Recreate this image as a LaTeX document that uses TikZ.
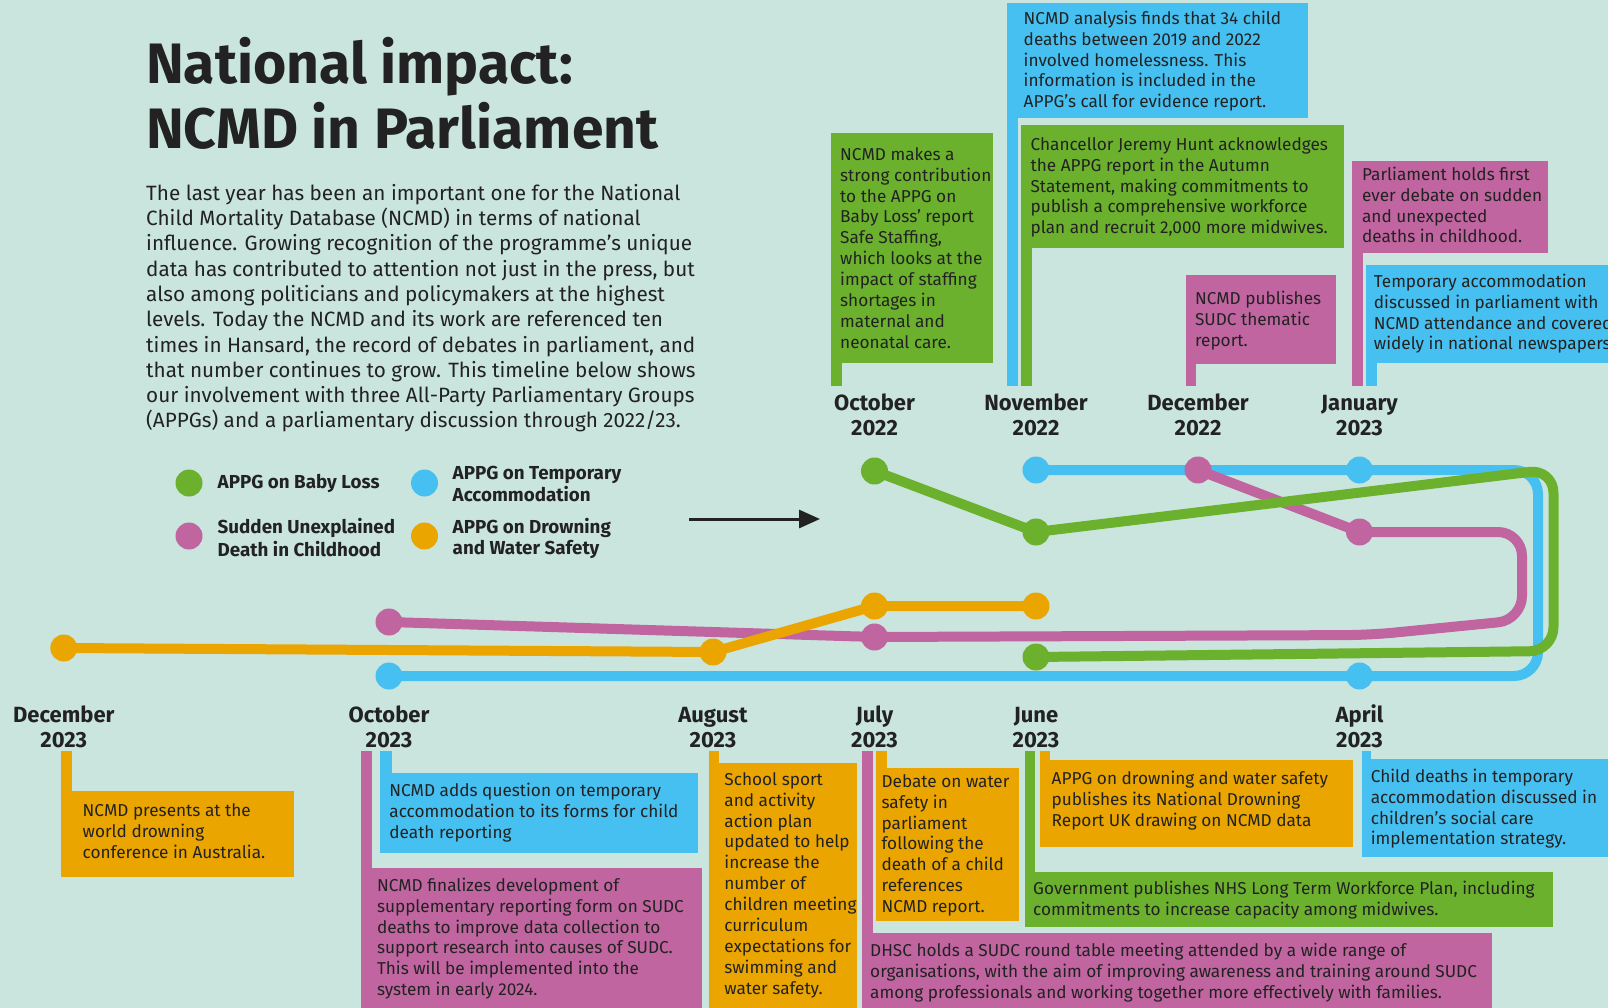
\documentclass[tikz,border=0pt]{standalone}
\usepackage{fontspec}
\setmainfont{Fira Sans}
\usetikzlibrary{arrows.meta}

\definecolor{bg}{RGB}{202,229,222}
\definecolor{ink}{RGB}{34,34,34}
\definecolor{cgreen}{RGB}{107,177,45}
\definecolor{cblue}{RGB}{70,192,240}
\definecolor{cpink}{RGB}{192,101,160}
\definecolor{corange}{RGB}{234,165,0}

\newcommand\fsz[2]{\fontsize{#1}{#2}\selectfont}

\begin{document}
\begin{tikzpicture}[x=1pt, y=-1pt,
  tl/.style={line width=10pt, line cap=round, line join=round},
  loop/.style={tl, rounded corners=24pt},
  dot/.style={circle, inner sep=0pt, minimum size=27pt},
  cbox/.style={anchor=north west, inner sep=0pt, outer sep=0pt},
  ctext/.style={anchor=north west, inner sep=0pt, align=left, text=ink, font=\fsz{17.2}{20.9}},
  mlabel/.style={anchor=north, inner sep=0pt, align=center, text=ink, font=\bfseries\fsz{22}{25}},
  ltext/.style={anchor=north west, inner sep=0pt, align=left, text=ink, font=\bfseries\fsz{18.8}{21}},
]
\path[use as bounding box] (0,0) rectangle (1608,1008);
\clip (0,0) rectangle (1608,1008);
\fill[bg] (0,0) rectangle (1608,1008);

% ---------- heading and introduction ----------
\node[anchor=north west, inner sep=0pt, align=left, text=ink,
      font=\bfseries\fsz{57}{62}] (title) at (146,36.6)
  {\strut National impact:\\NCMD in Parliament};
\node[anchor=north west, inner sep=0pt, align=left, text=ink,
      font=\fsz{20.7}{25.3}] (intro) at (146,182.3)
  {\strut The last year has been an important one for the National\\
   Child Mortality Database (NCMD) in terms of national\\
   influence. Growing recognition of the programme’s unique\\
   data has contributed to attention not just in the press, but\\
   also among politicians and policymakers at the highest\\
   levels. Today the NCMD and its work are referenced ten\\
   times in Hansard, the record of debates in parliament, and\\
   that number continues to grow. This timeline below shows\\
   our involvement with three All-Party Parliamentary Groups\\
   (APPGs) and a parliamentary discussion through 2022/23.};

% ---------- legend ----------
\node[dot, fill=cgreen] (lgA) at (189,483) {};
\node[ltext] (lgAt) at (217.5,473.3) {\strut APPG on Baby Loss};
\node[dot, fill=cblue] (lgB) at (424.5,483) {};
\node[ltext] (lgBt) at (452.5,464.3) {\strut APPG on Temporary\\Accommodation};
\node[dot, fill=cpink] (lgC) at (189,536) {};
\node[ltext] (lgCt) at (217.5,518.3) {\strut Sudden Unexplained\\Death in Childhood};
\node[dot, fill=corange] (lgD) at (424.5,536) {};
\node[ltext] (lgDt) at (452.5,518.3) {\strut APPG on Drowning\\and Water Safety};

\coordinate (arS) at (689,519);
\coordinate (arE) at (820,519);
\draw[ink, line width=3pt, -{Triangle[length=21pt,width=18pt]}] (arS) -- (arE);

% ---------- timeline stops ----------
\coordinate (gA) at (874.5,471);
\coordinate (gB) at (1036,532);
\coordinate (gC) at (1036,657);
\coordinate (bA) at (1036,470);
\coordinate (bB) at (1359.5,470);
\coordinate (bC) at (1359.5,676);
\coordinate (bD) at (389,676);
\coordinate (pA) at (1198,470);
\coordinate (pB) at (1359.5,532);
\coordinate (pC) at (874.5,637);
\coordinate (pD) at (389,622);
\coordinate (oA) at (63.8,648);
\coordinate (oB) at (713,652);
\coordinate (oC) at (874.5,606);
\coordinate (oD) at (1036,606);

% temporary accommodation
\draw[loop, cblue] (bA) -- (1538,470) -- (1538,676) -- (bD);
\foreach \p in {bA,bB,bC,bD} \node[dot, fill=cblue] (n\p) at (\p) {};
% sudden unexplained death
\draw[tl, cpink] (pA) -- (pB);
\draw[loop, cpink] (pB) -- (1522,532) -- (1522,620) -- (1370,635) -- (pC) -- (pD);
\foreach \p in {pA,pB,pC,pD} \node[dot, fill=cpink] (n\p) at (\p) {};
% drowning and water safety
\draw[tl, corange] (oA) -- (oB) -- (oC) -- (oD);
\foreach \p in {oA,oB,oC,oD} \node[dot, fill=corange] (n\p) at (\p) {};
% baby loss
\draw[tl, cgreen] (gA) -- (gB);
\draw[loop, cgreen] (gB) -- (1553.5,469) -- (1553.5,651) -- (gC);
\foreach \p in {gA,gB,gC} \node[dot, fill=cgreen] (n\p) at (\p) {};

% ---------- month labels ----------
\node[mlabel] (mA) at (874.5,392.5) {\strut October\\2022};
\node[mlabel] (mB) at (1036,392.5) {\strut November\\2022};
\node[mlabel] (mC) at (1198,392.5) {\strut December\\2022};
\node[mlabel] (mD) at (1359.5,392.5) {\strut January\\2023};
\node[mlabel] (mE) at (63.8,704.5) {\strut December\\2023};
\node[mlabel] (mF) at (389,704.5) {\strut October\\2023};
\node[mlabel] (mG) at (713,704.5) {\strut August\\2023};
\node[mlabel] (mH) at (874.5,704.5) {\strut July\\2023};
\node[mlabel] (mI) at (1036,704.5) {\strut June\\2023};
\node[mlabel] (mJ) at (1359.5,704.5) {\strut April\\2023};

% ---------- upper callouts (flag poles hang down to y = 386) ----------
\node[cbox, fill=cgreen, minimum width=162pt, minimum height=230pt] (cA) at (831,133) {};
\fill[cgreen] (cA.south west) rectangle ++(10.5,23);
\node[ctext] (tA) at (840,145.4) {\strut NCMD makes a\\strong contribution\\to the APPG on\\Baby Loss’ report\\Safe Staffing,\\which looks at the\\impact of staffing\\shortages in\\maternal and\\neonatal care.};

\node[cbox, fill=cblue, minimum width=301pt, minimum height=115pt] (cB) at (1007,3) {};
\fill[cblue] (cB.south west) rectangle ++(11,268);
\node[ctext] (tB) at (1023.5,9.4) {\strut NCMD analysis finds that 34 child\\deaths between 2019 and 2022\\involved homelessness. This\\information is included in the\\APPG’s call for evidence report.};

\node[cbox, fill=cgreen, minimum width=323.3pt, minimum height=123pt] (cC) at (1020.5,125.3) {};
\fill[cgreen] (cC.south west) rectangle ++(11.5,137.7);
\node[ctext] (tC) at (1030.4,135.4) {\strut Chancellor Jeremy Hunt acknowledges\\the APPG report in the Autumn\\Statement, making commitments to\\publish a comprehensive workforce\\plan and recruit 2,000 more midwives.};

\node[cbox, fill=cpink, minimum width=150.4pt, minimum height=89pt] (cD) at (1185.6,275) {};
\fill[cpink] (cD.south west) rectangle ++(10.5,22);
\node[ctext] (tD) at (1194.8,289.4) {\strut NCMD publishes\\SUDC thematic\\report.};

\node[cbox, fill=cpink, minimum width=196pt, minimum height=92.6pt] (cE) at (1351.5,160.7) {};
\fill[cpink] (cE.south west) rectangle ++(11.5,132.7);
\node[ctext] (tE) at (1361.9,165.4) {\strut Parliament holds first\\ever debate on sudden\\and unexpected\\deaths in childhood.};

\node[cbox, fill=cblue, minimum width=250pt, minimum height=98.3pt] (cF) at (1365.5,265) {};
\fill[cblue] (cF.south west) rectangle ++(11.5,22.7);
\node[ctext] (tF) at (1373.7,272.4) {\strut Temporary accommodation\\discussed in parliament with\\NCMD attendance and covered\\widely in national newspapers.};

% ---------- lower callouts (flag poles rise to y = 751) ----------
\node[cbox, fill=corange, minimum width=233pt, minimum height=86.6pt] (cG) at (61,790.7) {};
\fill[corange] (cG.north west) rectangle ++(11,-39.7);
\node[ctext] (tG) at (82.5,801.4) {\strut NCMD presents at the\\world drowning\\conference in Australia.};

\node[cbox, fill=cblue, minimum width=318pt, minimum height=80pt] (cH) at (380.4,773.3) {};
\fill[cblue] (cH.north west) rectangle ++(11.4,-22.3);
\node[ctext] (tH) at (389.2,781.4) {\strut NCMD adds question on temporary\\accommodation to its forms for child\\death reporting};

\node[cbox, fill=cpink, minimum width=341.2pt, minimum height=145pt] (cI) at (360.8,867.7) {};
\fill[cpink] (cI.north west) rectangle ++(11.2,-116.7);
\node[ctext] (tI) at (376.8,876.4) {\strut NCMD finalizes development of\\supplementary reporting form on SUDC\\deaths to improve data collection to\\support research into causes of SUDC.\\This will be implemented into the\\system in early 2024.};

\node[cbox, fill=corange, minimum width=148.2pt, minimum height=250pt] (cJ) at (708.8,763.3) {};
\fill[corange] (cJ.north west) rectangle ++(10.2,-12.3);
\node[ctext] (tJ) at (724.2,770.4) {\strut School sport\\and activity\\action plan\\updated to help\\increase the\\number of\\children meeting\\curriculum\\expectations for\\swimming and\\water safety.};

\node[cbox, fill=cpink, minimum width=629.8pt, minimum height=80pt] (cK) at (862,933.3) {};
\fill[cpink] (cK.north west) rectangle ++(11,-182.3);
\node[ctext] (tK) at (870,941.4) {\strut DHSC holds a SUDC round table meeting attended by a wide range of\\organisations, with the aim of improving awareness and training around SUDC\\among professionals and working together more effectively with families.};

\node[cbox, fill=corange, minimum width=142.7pt, minimum height=152.4pt] (cL) at (876.3,768.3) {};
\fill[corange] (cL.north west) rectangle ++(10.3,-17.3);
\node[ctext] (tL) at (881.4,772.4) {\strut Debate on water\\safety in\\parliament\\following the\\death of a child\\references\\NCMD report.};

\node[cbox, fill=cgreen, minimum width=527.3pt, minimum height=55pt] (cM) at (1025.3,872.3) {};
\fill[cgreen] (cM.north west) rectangle ++(9.5,-121.3);
\node[ctext] (tM) at (1033,879.4) {\strut Government publishes NHS Long Term Workforce Plan, including\\commitments to increase capacity among midwives.};

\node[cbox, fill=corange, minimum width=313.3pt, minimum height=86.7pt] (cN) at (1039.7,760) {};
\fill[corange] (cN.north west) rectangle ++(10.3,-9);
\node[ctext] (tN) at (1051.5,769.4) {\strut APPG on drowning and water safety\\publishes its National Drowning\\Report UK drawing on NCMD data};

\node[cbox, fill=cblue, minimum width=250pt, minimum height=98pt] (cO) at (1361.9,759.3) {};
\fill[cblue] (cO.north west) rectangle ++(9.5,-8.3);
\node[ctext] (tO) at (1370.6,767.4) {\strut Child deaths in temporary\\accommodation discussed in\\children’s social care\\implementation strategy.};

\end{tikzpicture}
\end{document}
